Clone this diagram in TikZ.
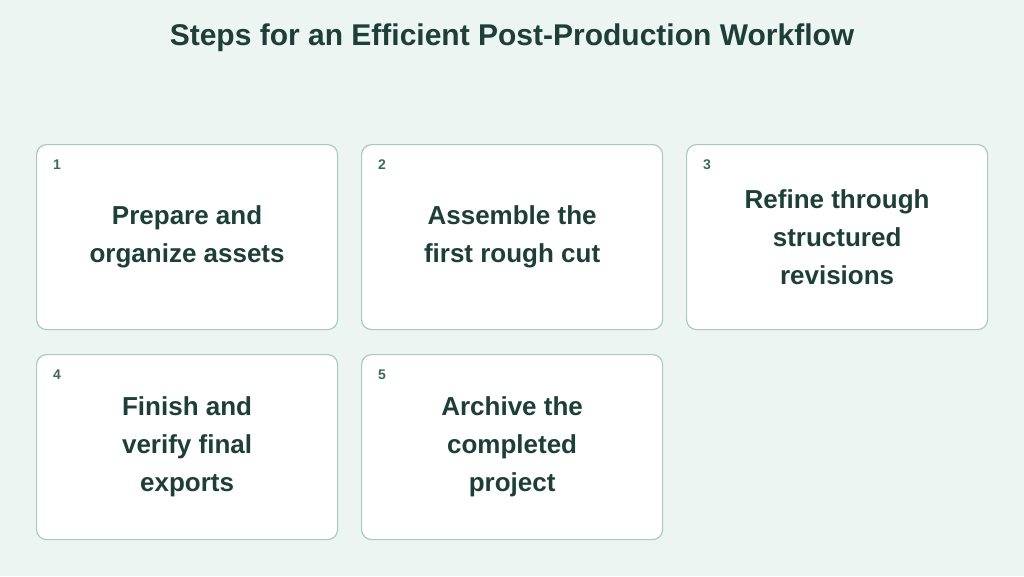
\documentclass[tikz,border=0pt]{standalone}
\usepackage{fontspec}
\setmainfont{Liberation Sans}
\usetikzlibrary{positioning}
\definecolor{bgmint}{HTML}{EDF5F2}
\definecolor{edgegreen}{HTML}{A8CBBE}
\definecolor{inkgreen}{HTML}{1E3F37}
\definecolor{numgreen}{HTML}{3D6A5D}
\tikzstyle{stepbox}=[rectangle, rounded corners=10pt, draw=edgegreen, line width=1.2pt, fill=white, minimum width=301pt, minimum height=185pt, anchor=north west]
\tikzstyle{steptext}=[align=center, text=inkgreen, font=\fontsize{26}{38}\selectfont\bfseries]
\tikzstyle{num}=[text=numgreen, font=\fontsize{14}{16}\selectfont\bfseries]
\begin{document}
\begin{tikzpicture}[x=1pt,y=-1pt]
  \fill[bgmint] (0,0) rectangle (1024,576);
  \useasboundingbox (0,0) rectangle (1024,576);
  \node[text=inkgreen, font=\fontsize{30}{32}\selectfont\bfseries] (title) at (512,38) {Steps for an Efficient Post-Production Workflow};

  \node[stepbox] (box1) at (36,144) {};
  \node[stepbox] (box2) at (361,144) {};
  \node[stepbox] (box3) at (686,144) {};
  \node[stepbox] (box4) at (36,354) {};
  \node[stepbox] (box5) at (361,354) {};

  \foreach \i in {1,...,5}
    \node[num] (num\i) at ([xshift=21pt,yshift=-21pt]box\i.north west) {\i};

  \node[steptext] (text1) at (box1.center) {Prepare and\\organize assets};
  \node[steptext] (text2) at (box2.center) {Assemble the\\first rough cut};
  \node[steptext] (text3) at (box3.center) {Refine through\\structured\\revisions};
  \node[steptext] (text4) at (box4.center) {Finish and\\verify final\\exports};
  \node[steptext] (text5) at (box5.center) {Archive the\\completed\\project};
\end{tikzpicture}
\end{document}
